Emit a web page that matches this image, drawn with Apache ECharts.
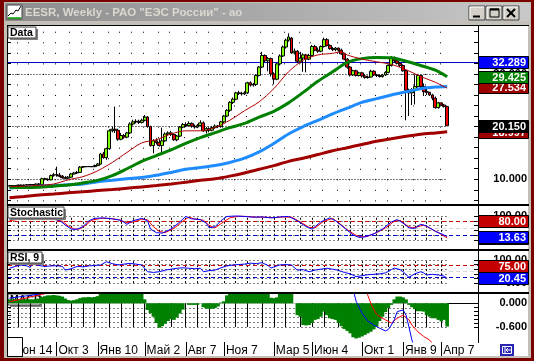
<!DOCTYPE html>
<html><head><meta charset="utf-8">
<script src="https://cdn.jsdelivr.net/npm/echarts/dist/echarts.min.js"></script>
<style>html,body{margin:0;padding:0;background:#fff;overflow:hidden}#c{width:534px;height:361px}</style>
</head><body><div id="c"></div>
<script>
// ---------------- data ----------------
const startWeek = '2005-06-13';
const weekCount = 160;
const tickDates = ['2005-06-13','2005-10-03','2006-01-09','2006-05-01','2006-08-07','2006-11-06','2007-03-05','2007-06-04','2007-10-01','2008-01-07','2008-04-07'];
const tickLabels = ['Июн 14','Окт 3','Янв 10','Май 2','Авг 7','Ноя 7','Мар 5','Июн 4','Окт 1','Янв 9','Апр 7'];
const windowTitle = 'EESR, Weekly - РАО "ЕЭС России" - ао';
const panelNames = ['Data','Stochastic','RSI, 9','MACD'];

// weekly candles [open, close, low, high]
const ohlc = [
[8.7,8.8,8.6,8.9],[8.8,8.7,8.6,8.9],[8.7,8.8,8.6,8.9],[8.8,8.9,8.7,9.0],[8.9,8.8,8.7,9.0],
[8.8,8.9,8.7,9.0],[8.9,8.95,8.8,9.1],[8.9,9.0,8.8,9.1],[9.0,8.9,8.8,9.1],[8.9,9.1,8.8,9.2],
[9.1,9.0,8.9,9.3],[9.0,10.1,9.0,10.3],[10.1,10.0,9.8,10.3],[10.0,9.9,9.7,10.2],[9.9,10.7,9.8,10.9],
[10.7,10.9,10.5,11.2],[10.9,10.8,10.5,12.4],[10.8,10.6,10.4,11.2],[10.6,10.3,10.1,10.8],[10.3,10.2,10.0,10.6],
[10.2,10.4,10.1,10.6],[10.4,11.0,10.3,11.2],[11.0,11.2,10.9,11.4],[11.2,11.3,11.0,11.6],[11.3,12.3,11.2,12.5],
[12.3,12.4,12.2,12.5],[12.4,12.4,12.4,12.45],[12.4,12.42,12.4,12.45],[12.4,12.4,12.3,12.5],[12.4,12.6,12.3,12.8],
[12.6,12.9,12.5,13.1],[12.9,14.8,12.8,15.0],[14.8,14.1,13.9,15.2],[14.1,15.8,13.7,16.0],[15.8,19.2,15.6,19.5],
[19.2,19.5,18.9,20.0],[19.5,19.3,18.8,23.8],[19.3,17.6,17.3,19.6],[17.6,18.3,17.4,18.8],[18.3,18.0,17.7,18.6],
[18.0,18.8,17.8,19.0],[18.8,20.5,18.6,20.8],[20.5,20.9,20.2,21.3],[20.9,21.0,20.6,21.4],[21.0,20.8,20.5,21.3],
[20.8,21.2,20.6,21.5],[21.2,21.8,21.0,22.2],[21.8,20.0,19.8,22.0],[20.0,16.4,16.2,20.2],[16.4,17.3,14.9,17.6],
[17.3,17.0,16.6,17.8],[17.0,16.4,16.2,17.6],[16.4,17.3,14.8,19.8],[17.3,18.6,17.1,18.9],[18.6,18.8,18.3,19.1],
[18.8,18.5,18.2,19.2],[18.5,17.5,17.3,18.7],[17.5,18.2,17.2,18.4],[18.2,19.9,18.0,20.1],[19.9,20.4,19.7,20.7],
[20.4,20.2,19.9,20.8],[20.2,20.6,20.0,21.0],[20.6,20.1,19.8,20.8],[20.1,19.9,19.6,20.4],[19.9,20.2,19.7,20.5],
[20.2,20.7,20.0,21.2],[20.7,19.2,19.0,21.0],[19.2,19.6,18.7,19.9],[19.6,19.3,18.9,19.8],[19.3,19.8,19.1,20.1],
[19.8,20.1,19.6,20.4],[20.1,20.0,19.7,20.3],[20.0,20.9,19.8,21.1],[20.9,22.0,20.7,22.2],[22.0,23.1,21.8,23.3],
[23.1,24.6,22.8,24.8],[24.6,25.2,24.3,25.5],[25.2,26.4,25.0,26.6],[26.4,26.3,26.0,26.8],[26.3,26.2,25.9,26.6],
[26.2,26.4,26.0,26.7],[26.4,28.3,26.2,28.5],[28.3,27.9,27.6,28.6],[27.9,28.0,27.6,28.3],[28.0,29.7,27.7,29.9],
[29.7,31.3,29.5,31.5],[31.3,33.5,31.1,34.2],[33.5,32.5,32.2,33.7],[32.5,32.9,30.5,33.2],[32.9,30.0,29.5,33.1],
[30.0,29.0,28.0,30.3],[29.0,31.9,28.8,32.1],[31.9,33.4,31.6,33.7],[33.4,35.1,33.2,35.4],[35.1,36.4,34.8,36.7],
[36.4,37.0,36.1,37.7],[36.8,34.0,33.8,37.0],[34.0,34.3,33.7,34.8],[34.3,32.4,32.1,34.5],[32.4,33.0,32.0,34.2],
[33.0,33.6,30.4,33.9],[33.6,32.8,30.3,33.8],[32.8,33.5,32.6,33.8],[33.5,35.2,33.3,35.5],[35.2,34.5,34.3,35.5],
[34.5,34.3,34.0,35.0],[34.3,35.2,34.1,35.4],[35.2,36.5,35.0,36.9],[36.5,35.4,35.2,36.8],[35.4,34.8,34.6,35.6],
[34.8,34.6,34.3,35.1],[34.6,34.9,34.3,35.1],[34.9,34.5,34.2,35.0],[34.5,33.8,33.6,34.8],[33.8,32.8,32.6,34.0],
[32.8,31.3,31.0,33.0],[31.3,29.8,29.5,31.5],[29.8,30.6,29.6,30.8],[30.6,29.7,29.5,30.8],[29.7,30.2,29.5,30.4],
[30.2,29.6,29.3,30.4],[29.6,29.3,29.1,29.9],[29.3,29.4,29.1,29.7],[29.4,30.5,29.3,30.8],[30.5,29.8,29.6,30.7],
[29.8,29.7,29.4,30.0],[29.7,29.5,29.3,29.9],[29.5,29.8,29.3,30.0],[29.8,30.3,29.6,30.5],[30.3,31.6,30.1,31.8],
[31.6,33.0,31.4,33.4],[33.0,32.5,32.2,33.3],[32.5,32.0,31.8,32.8],[32.0,31.6,31.3,32.3],[31.6,30.6,30.4,31.8],
[30.6,26.9,21.2,30.8],[26.9,26.4,22.0,27.2],[26.4,27.0,24.1,27.3],[27.0,27.6,24.2,29.8],[27.6,29.7,27.4,30.0],
[29.7,27.6,27.3,29.9],[27.6,26.6,25.8,28.2],[26.6,26.5,26.0,27.5],[26.5,26.0,25.8,26.6],[26.0,25.4,25.0,26.2],
[25.4,23.6,23.4,25.7],[23.6,24.5,23.4,24.7],[24.5,24.1,23.9,24.6],[24.1,23.8,23.6,24.3],[23.8,20.15,20.1,24.0]
];

// moving averages [week index, value]
const maShort = [[0,8.6],[5,8.7],[10,8.85],[15,9.1],[20,9.9],[25,10.5],[30,11.6],[35,13.2],[40,15.1],[45,16.9],[50,17.5],[55,18.6],[60,19.2],[65,19.2],[70,19.8],[75,21.2],[80,23.0],[85,24.7],[90,27.2],[95,30.4],[100,32.6],[105,33.6],[110,33.9],[113,34.2],[115,33.6],[120,32.8],[125,32.3],[130,31.8],[135,30.8],[140,29.5],[145,28.4],[149,27.3]];
const maGreen = [[0,8.5],[5,8.45],[10,8.5],[15,8.7],[20,8.9],[25,9.3],[30,9.8],[35,10.7],[40,12.0],[45,13.4],[50,14.5],[55,15.6],[60,16.8],[65,17.9],[70,18.85],[75,19.8],[80,20.6],[85,21.8],[90,22.9],[95,24.5],[100,26.5],[105,28.6],[110,30.4],[115,32.2],[120,32.9],[125,33.1],[130,33.05],[135,32.4],[140,31.6],[145,30.7],[149,29.45]];
const maBlue = [[0,8.35],[5,8.5],[10,8.7],[15,8.8],[20,8.95],[25,9.1],[30,9.55],[35,9.8],[40,10.1],[45,10.35],[50,10.75],[55,11.3],[60,11.9],[65,12.25],[70,12.6],[75,13.2],[80,14.0],[85,15.2],[90,16.8],[95,18.6],[100,20.0],[105,21.2],[110,22.4],[115,23.5],[120,24.6],[125,25.3],[130,26.0],[135,26.6],[140,27.2],[145,27.5],[149,27.6]];
const maLong = [[0,6.5],[5,6.75],[10,7.0],[15,7.2],[20,7.45],[25,7.65],[30,7.85],[35,8.05],[40,8.3],[45,8.55],[50,8.8],[55,9.1],[60,9.45],[65,9.8],[70,10.1],[75,10.6],[80,11.2],[85,11.9],[90,12.6],[95,13.4],[100,14.0],[105,14.7],[110,15.4],[115,16.0],[120,16.6],[125,17.2],[130,17.7],[135,18.15],[140,18.55],[145,18.8],[149,19.0]];
const levelValue = 32.289;

// stochastic %K (blue) and %D (red)
const stochK = [[0,85],[3,88],[6,92],[9,90],[12,90],[15,86],[17,82],[19,62],[21,45],[23,44],[25,55],[27,80],[29,90],[32,92],[35,88],[38,82],[40,65],[42,80],[45,90],[47,80],[48,45],[50,30],[52,28],[55,45],[58,75],[60,98],[62,88],[65,85],[67,70],[68,50],[70,55],[72,80],[74,98],[77,100],[80,98],[83,95],[86,96],[89,92],[92,96],[95,98],[98,80],[101,55],[103,45],[106,75],[109,92],[111,80],[114,50],[117,20],[119,10],[121,12],[124,25],[127,45],[130,75],[132,85],[134,70],[136,50],[138,48],[140,65],[142,58],[145,35],[147,25],[149,13.63]];
const stochD = [[0,80],[3,86],[6,90],[9,91],[12,89],[15,87],[18,78],[20,58],[22,45],[24,46],[26,62],[28,82],[31,90],[34,90],[37,85],[40,72],[42,74],[45,86],[47,84],[49,55],[51,35],[53,30],[56,48],[59,78],[61,95],[63,88],[66,82],[68,60],[70,50],[72,68],[75,92],[78,99],[81,98],[84,95],[87,95],[90,93],[93,96],[96,95],[99,75],[102,52],[104,50],[107,78],[110,90],[112,72],[115,42],[118,18],[120,12],[122,15],[125,30],[128,50],[131,78],[133,82],[135,62],[137,50],[139,55],[141,62],[143,50],[146,30],[149,8]];
const stochLevels = [80, 20];

// RSI(9)
const rsi = [[0,64],[2,72],[4,78],[6,74],[7,68],[8,82],[10,76],[12,72],[14,74],[16,75],[18,72],[19,56],[21,62],[23,72],[25,70],[27,74],[29,76],[31,78],[33,92],[35,84],[37,78],[39,82],[41,85],[43,82],[45,78],[47,49],[49,46],[51,49],[53,56],[55,60],[57,64],[59,66],[61,64],[63,62],[65,64],[66,49],[68,54],[70,56],[72,66],[74,74],[76,78],[78,80],[80,82],[82,86],[84,84],[86,88],[88,76],[89,65],[91,74],[92,78],[94,80],[96,78],[98,56],[100,58],[102,49],[104,56],[106,60],[108,64],[110,60],[112,55],[114,46],[116,40],[118,28],[120,32],[122,36],[124,38],[126,40],[128,44],[130,58],[131,65],[133,58],[134,49],[136,25],[138,40],[140,49],[141,44],[142,35],[144,38],[146,35],[148,30],[149,20.45]];
const rsiLevels = [75, 25];

// MACD histogram and lines
const macdHist = [
0.1,0.1,0.1,0.1,0.1,0.1,0.1,0.1,0.1,0.11,
0.12,0.16,0.18,0.2,0.2,0.21,0.2,0.19,0.17,0.12,
0.08,0.07,0.08,0.1,0.13,0.15,0.15,0.16,0.15,0.16,
0.18,0.25,0.3,0.35,0.45,0.5,0.55,0.5,0.45,0.45,
0.45,0.45,0.45,0.42,0.38,0.3,0.1,-0.17,-0.25,-0.34,
-0.5,-0.62,-0.58,-0.52,-0.45,-0.4,-0.42,-0.36,-0.26,-0.16,
0,-0.04,-0.04,-0.04,-0.04,0,-0.1,-0.13,-0.14,-0.14,
-0.12,-0.08,0.02,0.05,0.2,0.3,0.4,0.5,0.5,0.5,
0.5,0.55,0.5,0.5,0.55,0.6,0.6,0.5,0.3,0.14,
0.13,0.15,0.3,0.35,0.35,0.3,0.25,0,-0.3,-0.34,
-0.55,-0.56,-0.55,-0.5,-0.42,-0.4,-0.34,-0.21,-0.3,-0.38,
-0.4,-0.42,-0.5,-0.58,-0.65,-0.7,-0.76,-0.86,-0.89,-0.87,
-0.84,-0.8,-0.76,-0.72,-0.66,-0.59,-0.45,-0.34,-0.22,-0.12,
-0.04,0.1,0.17,0.17,0.15,0.1,-0.04,-0.1,-0.15,-0.2,
-0.2,-0.21,-0.3,-0.34,-0.38,-0.38,-0.42,-0.46,-0.42,-0.59
];
const macdLine = [[0,0.13],[3,0.16],[6,0.19],[9,0.22],[11,0.25],[13,0.32],[16,0.6],[20,1.0],[30,1.2],[40,2.0],[50,1.4],[60,1.2],[70,1.2],[80,2.0],[90,2.6],[100,2.4],[110,1.9],[114,1.4],[116,0.9],[117,0.35],[118,0.05],[120,-0.25],[122,-0.45],[124,-0.55],[126,-0.63],[128,-0.7],[129,-0.66],[130,-0.55],[131,-0.42],[132,-0.21],[134,-0.17],[135,-0.3],[136,-0.6],[137,-0.93],[139,-1.4],[149,-2.5]];
const macdSignal = [[0,0.04],[3,0.09],[6,0.14],[9,0.19],[12,0.24],[14,0.3],[18,0.6],[25,1.0],[40,1.8],[55,1.5],[70,1.2],[85,1.8],[100,2.4],[112,2.0],[118,1.4],[120,0.9],[121,0.5],[122,0.2],[123,0.0],[124,-0.15],[125,-0.28],[126,-0.34],[128,-0.42],[130,-0.5],[132,-0.38],[134,-0.3],[136,-0.42],[137,-0.55],[139,-0.72],[141,-0.84],[143,-0.93],[145,-1.1],[149,-1.4]];

// value boxes on the right scale: [panel, value, text, colour]
const lastValues = [
[0,18.997,'18.997','#9c0000'],[0,20.15,'20.150','#000000'],[0,27.534,'27.534','#9c0000'],
[0,29.425,'29.425','#008000'],[0,32.289,'32.289','#0000ff'],
[1,80,'80.00','#c40000'],[1,8,'8.00','#c40000'],[1,13.63,'13.63','#0000ff'],
[2,75,'75.00','#c40000'],[2,20.45,'20.45','#0000ff']
];

// ---------------- build ----------------
const dates = [], categories = [];
const t0 = Date.parse(startWeek + 'T00:00:00Z');
for (let i = 0; i < weekCount; i++) {
  const d = new Date(t0 + i * 7 * 86400000);
  dates.push(d); categories.push(d.toISOString().slice(0, 10));
}
const lastIdx = ohlc.length - 1;
const tickMap = {};
const tickIdx = [];
tickDates.forEach((d, k) => { const i = categories.indexOf(d); tickMap[i] = tickLabels[k]; tickIdx.push(i); });
const monthStarts = [];
for (let i = 1; i <= lastIdx; i++) if (dates[i].getUTCMonth() !== dates[i - 1].getUTCMonth()) monthStarts.push(i);
const monthSet = new Set(monthStarts);

const FONT = '"Liberation Sans", Arial, sans-serif';
const ML = (data) => ({silent: true, symbol: ['none', 'none'], label: {show: false}, animation: false, z: 1, emphasis: {disabled: true}, data: data});
const hSeg = (v, a, b, st) => [{coord: [a, v], lineStyle: st}, {coord: [b, v]}];
const vSeg = (i, lo, hi, st) => [{coord: [i, lo], lineStyle: st}, {coord: [i, hi]}];
const rowDots = {color: '#000', width: 1, type: [1, 3]};
const colDash = {color: '#000', width: 1, type: [2, 2]};

function xAxis(gi) {
  const base = {type: 'category', gridIndex: gi, data: categories, boundaryGap: true,
    axisLine: {show: false}, axisTick: {show: false}, axisLabel: {show: false}, splitLine: {show: false}};
  if (gi === 0) {
    base.splitLine = {show: true, interval: (i) => monthSet.has(i),
      lineStyle: {color: '#000', width: 1, type: [1, 9.54], dashOffset: 5.8}};
  }
  if (gi === 3) {
    base.axisLine = {show: true, lineStyle: {color: '#000', width: 1}};
    base.axisLabel = {show: true, interval: (i) => tickMap[i] !== undefined, formatter: (v, i) => tickMap[i] || '',
      align: 'left', padding: [0, 0, 0, 2], margin: 3, fontFamily: FONT, fontSize: 12, color: '#000'};
  }
  return base;
}
const ranges = [[5.31, 38.9], [-34.5, 142], [-34, 138.4], [-0.98, 0.235]];
const tickVals = [
  [6,8,10,12,14,16,18,20,22,24,26,28,30,32,34,36,38],
  [0,20,40,60,80,100],
  [0,20,40,60,80,100],
  [-0.6,-0.5,-0.4,-0.3,-0.2,-0.1,0]
];
const labelVals = [[10,20,30],[0,100],[0,100],[-0.6,0]];
const decimals = [3,2,2,3];
const yAxes = [];
for (let g = 0; g < 4; g++) {
  yAxes.push({type: 'value', gridIndex: g, position: 'right', min: ranges[g][0], max: ranges[g][1],
    axisLine: {show: false}, splitLine: {show: false},
    axisTick: {show: true, inside: true, length: 4, customValues: tickVals[g], lineStyle: {color: '#000'}},
    axisLabel: {show: true, customValues: labelVals[g], formatter: (v) => Number(v).toFixed(decimals[g]),
      align: 'right', margin: 49, fontFamily: FONT, fontWeight: 'bold', fontSize: 11, color: '#000'}});
}
for (let g = 0; g < 4; g++) {
  yAxes.push({type: 'value', gridIndex: g, position: 'left', min: ranges[g][0], max: ranges[g][1],
    axisLine: {show: false}, splitLine: {show: false}, axisLabel: {show: false},
    axisTick: {show: true, inside: true, length: 3, customValues: tickVals[g], lineStyle: {color: '#000'}}});
}

// grid marks
const dataGridLines = [10, 20, 30].map(v => hSeg(v, 0, lastIdx, {color: '#000', width: 1, type: [1, 2]}));
dataGridLines.push({yAxis: levelValue, lineStyle: {color: '#0000c8', width: 1, type: 'solid'}});
const stochGrid = [];
[0,20,40,60,80,100].forEach(v => stochGrid.push(hSeg(v, 0, lastIdx, rowDots)));
monthStarts.forEach(i => stochGrid.push(vSeg(i, 0, 100, colDash)));
stochGrid.push({yAxis: 50, lineStyle: {color: '#d8d8d8', width: 1, type: [4, 3]}});
stochGrid.push({yAxis: stochLevels[0], lineStyle: {color: '#d00000', width: 1, type: [4, 3]}});
stochGrid.push({yAxis: stochLevels[1], lineStyle: {color: '#0000d0', width: 1, type: [4, 3]}});
const rsiGrid = [];
[0,20,40,60,80,100].forEach(v => rsiGrid.push(hSeg(v, 0, lastIdx, rowDots)));
monthStarts.forEach(i => rsiGrid.push(vSeg(i, 0, 100, colDash)));
rsiGrid.push({yAxis: 50, lineStyle: {color: '#d8d8d8', width: 1, type: [4, 3]}});
rsiGrid.push({yAxis: rsiLevels[0], lineStyle: {color: '#d00000', width: 1, type: [4, 3]}});
rsiGrid.push({yAxis: rsiLevels[1], lineStyle: {color: '#0000d0', width: 1, type: [4, 3]}});
const macdGrid = [];
[-0.12,-0.24,-0.36,-0.48,-0.6].forEach(v => macdGrid.push(hSeg(v, 0, lastIdx, rowDots)));
macdGrid.push(hSeg(0, 0, lastIdx, {color: '#c8c8c8', width: 1, type: 'solid'}));
monthStarts.forEach(i => macdGrid.push(vSeg(i, -0.6, 0, {color: '#000', width: 1, type: 'solid'})));

const series = [
  {type: 'candlestick', xAxisIndex: 0, yAxisIndex: 0, data: ohlc, barWidth: 3.4, z: 3,
    itemStyle: {color: '#80ff00', color0: '#f00000', borderColor: '#000', borderColor0: '#000', borderWidth: 1},
    markLine: ML(dataGridLines)},
  {type: 'line', xAxisIndex: 0, yAxisIndex: 0, data: maLong, smooth: 0.3, showSymbol: false, z: 4, lineStyle: {color: '#a00000', width: 3}},
  {type: 'line', xAxisIndex: 0, yAxisIndex: 0, data: maBlue, smooth: 0.3, showSymbol: false, z: 4, lineStyle: {color: '#1e8cff', width: 3}},
  {type: 'line', xAxisIndex: 0, yAxisIndex: 0, data: maGreen, smooth: 0.3, showSymbol: false, z: 4, lineStyle: {color: '#008000', width: 3}},
  {type: 'line', xAxisIndex: 0, yAxisIndex: 0, data: maShort, smooth: 0.3, showSymbol: false, z: 4, lineStyle: {color: '#b00000', width: 1}},
  {type: 'line', xAxisIndex: 1, yAxisIndex: 1, data: stochD, showSymbol: false, lineStyle: {color: '#ff0000', width: 1}},
  {type: 'line', xAxisIndex: 1, yAxisIndex: 1, data: stochK, showSymbol: false, lineStyle: {color: '#0000ff', width: 1}, markLine: ML(stochGrid)},
  {type: 'line', xAxisIndex: 2, yAxisIndex: 2, data: rsi, showSymbol: false, lineStyle: {color: '#0000ff', width: 1}, markLine: ML(rsiGrid)},
  {type: 'bar', xAxisIndex: 3, yAxisIndex: 3, data: macdHist, barCategoryGap: '0%', barWidth: 3.6, itemStyle: {color: '#008000', borderWidth: 0}, markLine: ML(macdGrid)},
  {type: 'line', xAxisIndex: 3, yAxisIndex: 3, data: macdSignal, showSymbol: false, z: 5, lineStyle: {color: '#ff0000', width: 1}},
  {type: 'line', xAxisIndex: 3, yAxisIndex: 3, data: macdLine, showSymbol: false, z: 5, lineStyle: {color: '#0000ff', width: 1}}
];

// window frame & decorations
let gid = 0;
const G = [];
const rect = (x, y, w, h, fill, extra) => G.push(Object.assign({id: 'g' + (gid++), type: 'rect', z: 50, silent: true, shape: {x, y, width: w, height: h}, style: {fill: fill}}, extra || {}));
const line = (x1, y1, x2, y2, stroke, w, z) => G.push({id: 'g' + (gid++), type: 'line', z: z || 50, silent: true, shape: {x1, y1, x2, y2}, style: {stroke: stroke, lineWidth: w || 1}});
const text = (t, x, y, font, fill, align, z) => G.push({id: 'g' + (gid++), type: 'text', z: z || 60, silent: true,
  style: {text: t, x: x, y: y, font: font, fill: fill, textAlign: align || 'left', align: align || 'left', textVerticalAlign: 'middle', verticalAlign: 'middle'}});

rect(4, 2, 527, 23, '#c4c0b8');
rect(4, 2, 3, 356, '#c4c0b8');
rect(528, 2, 3, 356, '#c4c0b8');
rect(4, 356, 527, 2, '#c4c0b8');
rect(0, 0, 534, 2, '#7a0000');
rect(0, 0, 4, 361, '#7a0000');
rect(531, 0, 3, 361, '#7a0000');
rect(0, 358, 534, 3, '#7a0000');
rect(5, 3, 525, 18, {type: 'linear', x: 0, y: 0, x2: 1, y2: 0, colorStops: [{offset: 0, color: '#8c8c8c'}, {offset: 1, color: '#c8c8c8'}]});
line(7, 25.5, 529, 25.5, '#000', 1);
line(7.5, 25, 7.5, 357, '#000', 1);
rect(7, 5, 15, 14, '#ffffff', {style: {fill: '#ffffff', stroke: '#404040', lineWidth: 1}});
G.push({id: 'g' + (gid++), type: 'polyline', z: 55, silent: true, shape: {points: [[8, 16], [11, 13], [13, 14], [16, 10], [18, 11], [21, 6]]}, style: {stroke: '#000', lineWidth: 1, fill: 'none'}});
line(8, 18, 21, 18, '#00a000', 1.5, 55);
text(windowTitle, 25, 12.5, 'bold 11.5px ' + FONT, '#dcd8d0');
[[469, 6], [486, 6], [503, 6]].forEach(([bx, by]) => {
  rect(bx, by, 16, 14, '#d4d0c8', {style: {fill: '#d4d0c8', stroke: '#404040', lineWidth: 1}});
  line(bx + 1, by + 1, bx + 15, by + 1, '#ffffff', 1, 51);
  line(bx + 1, by + 1, bx + 1, by + 13, '#ffffff', 1, 51);
});
line(473, 16.5, 480, 16.5, '#000', 2, 55);
rect(490, 9, 9, 8, 'none', {z: 55, style: {fill: 'none', stroke: '#000', lineWidth: 1}});
line(490, 9.5, 499, 9.5, '#000', 2, 55);
line(507, 9, 515, 17, '#000', 2, 55);
line(515, 9, 507, 17, '#000', 2, 55);

[204, 249, 292].forEach(y => rect(7, y, 522, 2, '#000'));
line(478.5, 26, 478.5, 343, '#000', 1);

[[panelNames[0], 8, 27, 28, 11, 60], [panelNames[1], 8, 207, 56, 11, 60], [panelNames[2], 8, 252, 34, 11, 60], [panelNames[3], 8, 294, 32, 11, 1]].forEach(([t, x, y, w, h, z]) => {
  rect(x + 2, y + 2, w, h, '#808080', {z: z});
  rect(x, y, w, h, '#ffffff', {z: z, style: {fill: '#ffffff', stroke: '#404040', lineWidth: 1}});
  text(t, x + 2, y + h / 2 + 0.5, 'bold 10.5px ' + FONT, '#000', 'left', z + 1);
});

rect(7.5, 337.5, 15, 19, '#ffffff', {z: 65, style: {fill: '#ffffff', stroke: '#000', lineWidth: 1}});
rect(500, 344, 14, 12, '#2a24b4');
rect(502.5, 346.5, 9, 7, 'none', {z: 55, style: {fill: 'none', stroke: '#ffffff', lineWidth: 1}});
line(505, 347, 505, 353, '#ffffff', 1, 56);
line(506, 350, 511, 350, '#ffffff', 1, 56);
line(506, 350, 508, 348, '#ffffff', 1, 56);
line(506, 350, 508, 352, '#ffffff', 1, 56);

const option = {
  animation: false,
  backgroundColor: '#ffffff',
  grid: [
    {left: 8, top: 27, width: 470, height: 177},
    {left: 8, top: 206, width: 470, height: 42},
    {left: 8, top: 251, width: 470, height: 40},
    {left: 8, top: 294, width: 470, height: 48}
  ],
  xAxis: [xAxis(0), xAxis(1), xAxis(2), xAxis(3)],
  yAxis: yAxes,
  series: series,
  graphic: {elements: G}
};

const chart = echarts.init(document.getElementById('c'), null, {renderer: 'canvas', width: 534, height: 361});
chart.setOption(option);

// value boxes and date separators placed through the axis scales
const extra = [];
lastValues.forEach(([g, v, t, c], k) => {
  const y = chart.convertToPixel({yAxisIndex: g}, v);
  extra.push({id: 'b' + k, type: 'rect', z: 70 + k * 2, silent: true, shape: {x: 478.5, y: Math.round(y) - 5.5, width: 50, height: 12},
    style: {fill: c, stroke: '#000', lineWidth: 1}});
  extra.push({id: 'bt' + k, type: 'text', z: 71 + k * 2, silent: true,
    style: {text: t, x: 526, y: Math.round(y) + 0.5, font: 'bold 11px ' + FONT, fill: '#ffffff', textAlign: 'right', align: 'right', textVerticalAlign: 'middle', verticalAlign: 'middle'}});
});
tickIdx.forEach((i, k) => {
  const x = Math.round(chart.convertToPixel({xAxisIndex: 3}, i)) + 0.5;
  extra.push({id: 's' + k, type: 'line', z: 60, silent: true, shape: {x1: x, y1: 342, x2: x, y2: 356}, style: {stroke: '#000', lineWidth: 1}});
});
chart.setOption({graphic: {elements: extra}});
</script>
</body></html>
